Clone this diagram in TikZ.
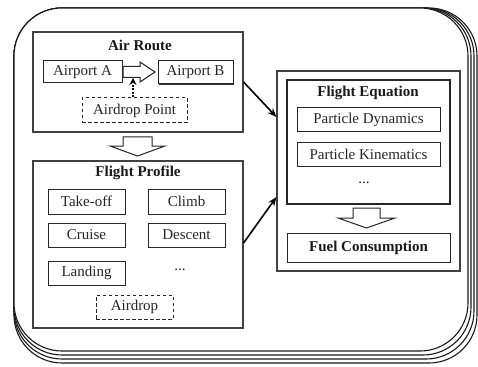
\documentclass[tikz,border=0pt]{standalone}
\usepackage{fontspec}
\setmainfont{Liberation Serif}
\usetikzlibrary{arrows.meta,shadows}
\begin{document}
\begin{tikzpicture}[x=1pt,y=-1pt,
  frame/.style={draw=black!90, line width=1.1pt, fill=white, rounded corners=48pt},
  group/.style={draw=black!75, line width=1.1pt, fill=white, inner sep=0pt},
  itembox/.style={draw=black!85, line width=1pt, fill=white, inner sep=0pt, text=black!85,
    font=\fontsize{15}{16}\selectfont},
  dashbox/.style={itembox, dash pattern=on 3.5pt off 2.5pt},
  title/.style={font=\fontsize{15}{16}\selectfont\bfseries, text=black!90, inner sep=0pt},
  plain/.style={font=\fontsize{15}{16}\selectfont, text=black!85, inner sep=0pt},
  hollow/.style={draw=black!85, line width=1pt, fill=white, line join=miter},
  conn/.style={draw=black, line width=1.6pt, -{Stealth[length=9pt,width=7pt]}},
  dotconn/.style={draw=black, line width=2pt, dash pattern=on 2pt off 1.6pt,
    -{Stealth[length=7pt,width=7pt]}}
]
\useasboundingbox (0,0) rectangle (478,366);

% stacked outer sheets, back to front
\draw[frame] (14,8) rectangle (477,363);
\draw[frame] (14,8) rectangle (474,359);
\draw[frame] (14,8) rectangle (471,355);
\draw[frame] (14,8) rectangle (468,351);

% ---------- Air Route ----------
\node[group, minimum width=210pt, minimum height=100pt] (route) at (138,82) {};
\node[title] (routeT) at (140,45) {Air Route};
\node[itembox, minimum width=79pt, minimum height=22pt] (airA) at (82.5,72) {Airport A};
\node[itembox, minimum width=75pt, minimum height=23pt,
  drop shadow={shadow xshift=1.2pt, shadow yshift=-1.2pt, opacity=1, fill=black!80}]
  (airB) at (195.5,72.5) {Airport B};
\node[dashbox, minimum width=105pt, minimum height=25pt] (dpoint) at (134.5,110.5) {Airdrop Point};

% hollow arrow from Airport A to Airport B
\coordinate (ha) at (123,72);
\draw[hollow] (ha) ++(0,-5.5) -- ++(17,0) -- ++(0,-4.5) -- (155,72) -- (140,82)
  -- ++(0,-4.5) -- ++(-17,0) -- cycle;
\coordinate (habot) at (133,78);
\draw[dotconn] (dpoint.north -| habot) -- (habot);

% hollow arrow from Air Route down to Flight Profile
\draw[hollow] (123,137) -- (152,137) -- (152,146) -- (165,146) -- (137.5,156)
  -- (110,146) -- (123,146) -- cycle;

% ---------- Flight Profile ----------
\node[group, minimum width=210pt, minimum height=167pt] (profile) at (138,244.5) {};
\node[title] (profileT) at (138,173) {Flight Profile};
\node[itembox, minimum width=77pt, minimum height=25pt] (takeoff) at (86.5,201.5) {Take-off};
\node[itembox, minimum width=77pt, minimum height=25pt] (climb) at (186.5,201.5) {Climb};
\node[itembox, minimum width=77pt, minimum height=24pt] (cruise) at (86.5,235) {Cruise};
\node[itembox, minimum width=77pt, minimum height=24pt] (descent) at (186.5,235) {Descent};
\node[itembox, minimum width=77pt, minimum height=24pt] (landing) at (86.5,273) {Landing};
\node[plain] (pdots) at (180,270) {...};
\node[dashbox, minimum width=77pt, minimum height=24pt] (airdrop) at (134.5,307) {Airdrop};

% ---------- Flight Equation ----------
\node[group, minimum width=183pt, minimum height=200pt] (eqo) at (368.5,171) {};
\node[group, draw=black!85, minimum width=163pt, minimum height=124pt] (eqi) at (368.5,142) {};
\node[title] (eqT) at (368,93) {Flight Equation};
\node[itembox, minimum width=143pt, minimum height=24pt] (dyn) at (368.5,120) {Particle Dynamics};
\node[itembox, minimum width=143pt, minimum height=24pt] (kin) at (368.5,154) {Particle Kinematics};
\node[plain] (edots) at (364,183) {...};
\node[itembox, minimum width=163pt, minimum height=29pt,
  font=\fontsize{15}{16}\selectfont\bfseries, text=black!90] (fuel) at (368.5,247.5) {Fuel Consumption};

% hollow arrow from equations down to fuel consumption
\draw[hollow] (353,208) -- (380,208) -- (380,218) -- (395,218) -- (366.5,228)
  -- (338,218) -- (353,218) -- cycle;

% ---------- connectors ----------
\draw[conn] (route.east) -- ([yshift=54pt]eqo.west);
\draw[conn] ([yshift=1.5pt]profile.east) -- ([yshift=-26pt]eqo.west);
\end{tikzpicture}
\end{document}
